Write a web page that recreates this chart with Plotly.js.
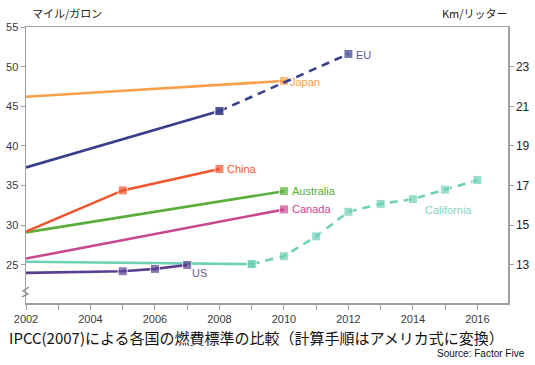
<!DOCTYPE html>
<html><head><meta charset="utf-8">
<script src="https://cdn.plot.ly/plotly-3.0.1.min.js"></script>
<style>body{margin:0;background:#fff}#c{width:535px;height:365px}</style>
</head><body><div id="c"></div>
<script>
// Data (mpg, converted scale)
const euYears = [2002, 2008, 2012];
const euVals = [37.3, 44.4, 51.6];
const euSolidEnd = 1; // dashed after this index
const japanYears = [2002, 2010];
const japanVals = [46.2, 48.2];
const chinaYears = [2002, 2005, 2008];
const chinaVals = [29.2, 34.4, 37.1];
const australiaYears = [2002, 2010];
const australiaVals = [29.1, 34.3];
const canadaYears = [2002, 2010];
const canadaVals = [25.8, 32.0];
const californiaYears = [2002, 2009, 2010, 2011, 2012, 2013, 2014, 2015, 2016];
const californiaVals = [25.4, 25.1, 26.1, 28.6, 31.7, 32.7, 33.3, 34.5, 35.7];
const californiaSolidEnd = 1;
const usYears = [2002, 2005, 2006, 2007];
const usVals = [24.0, 24.2, 24.5, 25.0];
const xTicks = [2002, 2004, 2006, 2008, 2010, 2012, 2014, 2016];
const yTicks = [25, 30, 35, 40, 45, 50, 55];
const y2Ticks = [13, 15, 17, 19, 21, 23];

const C = {eu:'#353f8b', japan:'#f8a04a', china:'#f2552d', australia:'#5aae3b', canada:'#c8478f', california:'#6fd0b6', us:'#5b3f8f'};

function seg(name, xs, ys, color, dash, firstHidden){
  const sizes = xs.map((_,i)=> (firstHidden && i===0)?0:9);
  return {x:xs, y:ys, type:'scatter', mode:'lines+markers', name:name,
    line:{color:color, width:2.6, dash:dash||'solid'},
    marker:{symbol:'square', size:sizes, color:color}, hoverinfo:'skip', cliponaxis:false};
}
const traces = [];
traces.push(seg('California', californiaYears.slice(0, californiaSolidEnd+1), californiaVals.slice(0, californiaSolidEnd+1), C.california, 'solid', true));
traces.push(seg('California', californiaYears.slice(californiaSolidEnd), californiaVals.slice(californiaSolidEnd), C.california, '8px,6px', false));
traces.push(seg('Canada', canadaYears, canadaVals, C.canada, 'solid', true));
traces.push(seg('Australia', australiaYears, australiaVals, C.australia, 'solid', true));
traces.push(seg('China', chinaYears, chinaVals, C.china, 'solid', true));
traces.push(seg('Japan', japanYears, japanVals, C.japan, 'solid', true));
traces.push(seg('EU', euYears.slice(0, euSolidEnd+1), euVals.slice(0, euSolidEnd+1), C.eu, 'solid', true));
traces.push(seg('EU', euYears.slice(euSolidEnd), euVals.slice(euSolidEnd), C.eu, '8px,6px', false));
traces.push(seg('US', usYears, usVals, C.us, 'solid', true));
const yMin = 20.2, yMax = 55;
const toKm = v => 13 + (v - 25) * 0.4;
traces.push({x:[2002], y:[toKm(25)], yaxis:'y2', mode:'markers', marker:{opacity:0}, hoverinfo:'skip', showlegend:false});

const lastLabel = (xs, ys, text, color, dx, dy) => ({x:xs[xs.length-1], y:ys[ys.length-1], text:text, showarrow:false,
  xanchor:'left', yanchor:'middle', xshift:dx||6, yshift:dy||0, font:{family:'Liberation Sans, Arial, sans-serif', size:11, color:color}});

const tickFont = {family:'Liberation Sans, Arial, sans-serif', size:11, color:'#3a3a3a'};
const layout = {
  width:535, height:365, margin:{l:26, r:27, t:27, b:62},
  paper_bgcolor:'#fff', plot_bgcolor:'#fff', showlegend:false,
  xaxis:{range:[2002, 2016.95], tickvals:xTicks, ticktext:xTicks.map(String), showgrid:false, zeroline:false,
    showline:true, linecolor:'#a0a0a0', linewidth:1.5, mirror:true, ticks:'outside', ticklen:5, tickcolor:'#a0a0a0',
    minor:{dtick:1, ticks:'outside', ticklen:5, tickcolor:'#a0a0a0'}, tickfont:tickFont},
  yaxis:{range:[yMin, yMax], tickvals:yTicks, showgrid:false, zeroline:false, showline:true, linecolor:'#a0a0a0', linewidth:1.5,
    ticks:'outside', ticklen:4, tickcolor:'#a0a0a0', tickfont:tickFont},
  yaxis2:{overlaying:'y', side:'right', range:[toKm(yMin), toKm(yMax)], tickvals:y2Ticks, showgrid:false, zeroline:false,
    showline:true, linecolor:'#a0a0a0', linewidth:1.5, ticks:'outside', ticklen:4, tickcolor:'#a0a0a0', tickfont:{family:'Liberation Sans, Arial, sans-serif', size:12, color:'#222'}},
  annotations:[
    lastLabel(euYears, euVals, 'EU', '#4c5a9c', 6, -1),
    lastLabel(japanYears, japanVals, 'Japan', C.japan, 4, -1),
    lastLabel(chinaYears, chinaVals, 'China', C.china, 6),
    lastLabel(australiaYears, australiaVals, 'Australia', C.australia, 6),
    lastLabel(canadaYears, canadaVals, 'Canada', C.canada, 6),
    {x:2015.1, y:31.9, text:'California', showarrow:false, xanchor:'center', yanchor:'middle', font:{family:'Liberation Sans, Arial, sans-serif', size:11, color:'#7fd6c0'}},
    {x:usYears[usYears.length-1], y:usVals[usVals.length-1], text:'US', showarrow:false, xanchor:'left', yanchor:'top', xshift:3, yshift:0, font:{family:'Liberation Sans, Arial, sans-serif', size:11, color:'#6a5a9a'}},
    {xref:'paper', yref:'paper', x:0, y:1, xshift:4, yshift:14, xanchor:'left', yanchor:'middle', text:'マイル/ガロン', showarrow:false, font:{family:'Noto Sans CJK JP', size:11, color:'#222'}},
    {xref:'paper', yref:'paper', x:1, y:1, xshift:2, yshift:14, xanchor:'right', yanchor:'middle', text:'Km/リッター', showarrow:false, font:{family:'Noto Sans CJK JP', size:11, color:'#222'}},
    {xref:'paper', yref:'paper', x:0, y:0, xshift:-19, yshift:-34, xanchor:'left', yanchor:'middle', text:'IPCC(2007)による各国の燃費標準の比較（計算手順はアメリカ式に変換）', showarrow:false, font:{family:'Noto Sans CJK JP', size:15, color:'#111'}},
    {xref:'paper', yref:'paper', x:1, y:0, xshift:19, yshift:-50, xanchor:'right', yanchor:'middle', text:'Source: Factor Five', showarrow:false, font:{family:'Liberation Sans, Arial, sans-serif', size:10, color:'#111'}}
  ],
  shapes:[
    {type:'path', xref:'paper', yref:'y', xsizemode:'pixel', xanchor:0, ysizemode:'pixel', yanchor:21.6,
     path:'M-4,-5 L2,-2 L-3,1 L3,5', line:{color:'#888', width:1.2}}
  ]
};
Plotly.newPlot('c', traces, layout, {staticPlot:true});
</script></body></html>
